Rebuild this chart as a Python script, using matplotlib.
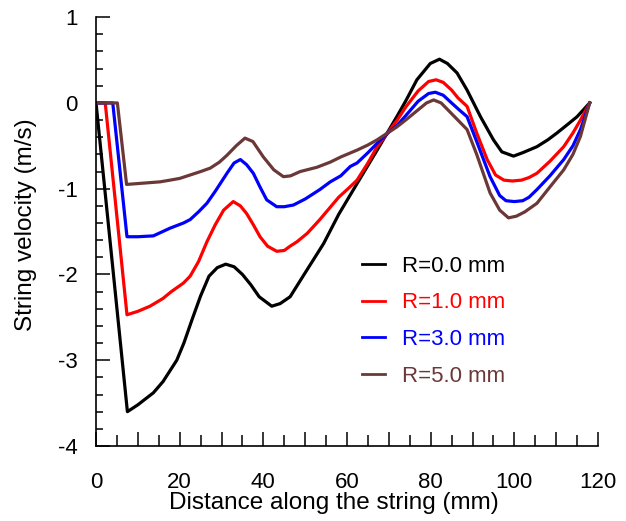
import matplotlib
matplotlib.use('Agg')
import matplotlib.pyplot as plt
from matplotlib.ticker import MultipleLocator, FuncFormatter

# --- data (x in mm, velocity in m/s) ---
x_r0 = [0, 7.5, 10, 13.7, 16, 19.3, 21, 23, 25, 27, 29, 31, 33, 35, 37, 39, 42, 44,
        46.4, 50, 54.4, 58, 62.4, 67.2, 71.9, 74, 76.7, 79.9, 82.1, 84, 86.3, 88.7,
        91.9, 95, 97, 99.8, 102, 105.4, 108, 110.2, 113, 115, 118]
v_r0 = [0, -3.60, -3.52, -3.38, -3.25, -3.00, -2.80, -2.52, -2.25, -2.02, -1.92, -1.88,
        -1.91, -2.00, -2.12, -2.26, -2.37, -2.34, -2.26, -1.98, -1.64, -1.30, -0.94,
        -0.55, -0.16, 0.02, 0.27, 0.46, 0.51, 0.46, 0.35, 0.15, -0.16, -0.43, -0.57,
        -0.62, -0.58, -0.51, -0.43, -0.35, -0.24, -0.16, 0]

x_r1 = [0, 2.2, 7.4, 10, 12.9, 16, 18, 20.9, 22.5, 24.5, 26.5, 28.5, 30.5, 32.8, 34.5,
        36, 37.6, 39.2, 41, 43.2, 45, 46.4, 48, 50.5, 53.5, 58, 60.8, 62.4, 65, 67.2,
        70, 72, 74, 77, 79.5, 81.3, 83, 85, 86.5, 88.7, 91, 93.5, 95.5, 97.5, 99.5,
        101.7, 103.5, 105.4, 108.5, 111.8, 114, 115.8, 118]
v_r1 = [0, 0, -2.47, -2.43, -2.37, -2.28, -2.20, -2.10, -2.02, -1.85, -1.62, -1.42,
        -1.25, -1.15, -1.20, -1.29, -1.42, -1.56, -1.67, -1.73, -1.72, -1.67, -1.62,
        -1.52, -1.36, -1.10, -0.975, -0.90, -0.70, -0.51, -0.33, -0.20, -0.05, 0.14,
        0.25, 0.27, 0.24, 0.15, 0.06, -0.04, -0.35, -0.66, -0.84, -0.90, -0.91, -0.90,
        -0.87, -0.82, -0.68, -0.51, -0.35, -0.20, 0]

x_r3 = [0, 4, 7.4, 10, 13.7, 17.7, 20.9, 22.5, 24.5, 26.5, 28.5, 31.3, 33, 34.5, 36,
        37.6, 39.2, 40.8, 43.2, 45, 47.2, 50, 53.5, 56, 58.5, 60.8, 62.4, 65, 67.2, 70,
        72, 74, 77, 79.5, 81.1, 83, 85, 86.8, 88.7, 91, 94.2, 96.5, 98, 100, 102,
        103.5, 105.4, 108.5, 111.8, 114, 115.8, 118]
v_r3 = [0, 0, -1.56, -1.56, -1.55, -1.46, -1.40, -1.36, -1.27, -1.17, -1.03, -0.82,
        -0.70, -0.66, -0.72, -0.82, -0.98, -1.13, -1.21, -1.21, -1.19, -1.12, -1.01,
        -0.92, -0.85, -0.74, -0.70, -0.58, -0.47, -0.34, -0.26, -0.15, 0.02, 0.11,
        0.125, 0.09, 0.0, -0.08, -0.16, -0.45, -0.86, -1.08, -1.14, -1.15, -1.14,
        -1.10, -1.01, -0.85, -0.66, -0.50, -0.31, 0]

x_r5 = [0, 5.1, 7.3, 10, 15.3, 17.7, 20, 22.5, 25, 27.3, 29.5, 31.3, 33.5, 35.6, 37.5,
        40, 42.5, 44.8, 46.5, 48.8, 52.8, 56, 58.5, 62.4, 65, 67.2, 70, 71.9, 74, 77,
        79, 80.7, 82.5, 84.5, 86.5, 88.7, 91, 94.2, 96.5, 98.6, 100.5, 102.5, 105.4,
        108.5, 111.8, 114, 115.8, 118]
v_r5 = [0, 0, -0.95, -0.94, -0.92, -0.90, -0.88, -0.84, -0.80, -0.76, -0.69, -0.61,
        -0.50, -0.41, -0.45, -0.63, -0.78, -0.86, -0.85, -0.80, -0.75, -0.69, -0.63,
        -0.55, -0.49, -0.43, -0.34, -0.28, -0.20, -0.08, 0.0, 0.035, 0.0, -0.10, -0.20,
        -0.31, -0.60, -1.05, -1.25, -1.34, -1.32, -1.27, -1.17, -0.98, -0.78, -0.60,
        -0.39, 0]

labels = ['R=0.0 mm', 'R=1.0 mm', 'R=3.0 mm', 'R=5.0 mm']
colors = ['#000000', '#ff0000', '#0000ff', '#6b3838']

plt.rcParams['font.family'] = ['Liberation Sans', 'DejaVu Sans']
plt.rcParams['axes.unicode_minus'] = False

fig = plt.figure(figsize=(6.26, 5.21), dpi=100)
ax = fig.add_axes([0.1534, 0.144, 0.8019, 0.823])

series = [(x_r0, v_r0), (x_r1, v_r1), (x_r3, v_r3), (x_r5, v_r5)]
for (xs, vs), lab, c in zip(series, labels, colors):
    ax.plot(xs, vs, color=c, lw=2.3, label=lab, solid_joinstyle='round')

ax.set_xlim(0, 120)
ax.set_ylim(-4, 1)
ax.xaxis.set_major_locator(MultipleLocator(10))
ax.xaxis.set_minor_locator(MultipleLocator(5))
ax.xaxis.set_major_formatter(FuncFormatter(lambda v, p: f'{v:.0f}' if round(v) % 20 == 0 else ''))
ax.yaxis.set_major_locator(MultipleLocator(1))
ax.yaxis.set_minor_locator(MultipleLocator(0.2))
ax.yaxis.set_major_formatter(FuncFormatter(lambda v, p: f'{v:.0f}'))

for s in ['top', 'right']:
    ax.spines[s].set_visible(False)
for s in ['left', 'bottom']:
    ax.spines[s].set_linewidth(1.2)

ax.tick_params(axis='x', which='major', direction='in', length=10, width=1.1, pad=19, labelsize=16)
ax.tick_params(axis='x', which='minor', direction='in', length=8, width=1.1)
ax.tick_params(axis='y', which='major', direction='in', length=10, width=1.1, pad=13, labelsize=16)
ax.tick_params(axis='y', which='minor', direction='in', length=5, width=1.1)

ax.set_xlabel('Distance along the string (mm)', fontsize=17.5)
ax.set_ylabel('String velocity (m/s)', fontsize=17.5)
ax.xaxis.set_label_coords(0.474, -0.108)
ax.yaxis.set_label_coords(-0.118, 0.515)

leg = ax.legend(loc='upper left', bbox_to_anchor=(0.49, 0.49), frameon=False,
                fontsize=16, handlelength=1.05, handletextpad=0.75,
                labelspacing=0.7, labelcolor='linecolor')
for h in leg.get_lines():
    h.set_linewidth(2.0)

fig.savefig('out.png', dpi=100)
